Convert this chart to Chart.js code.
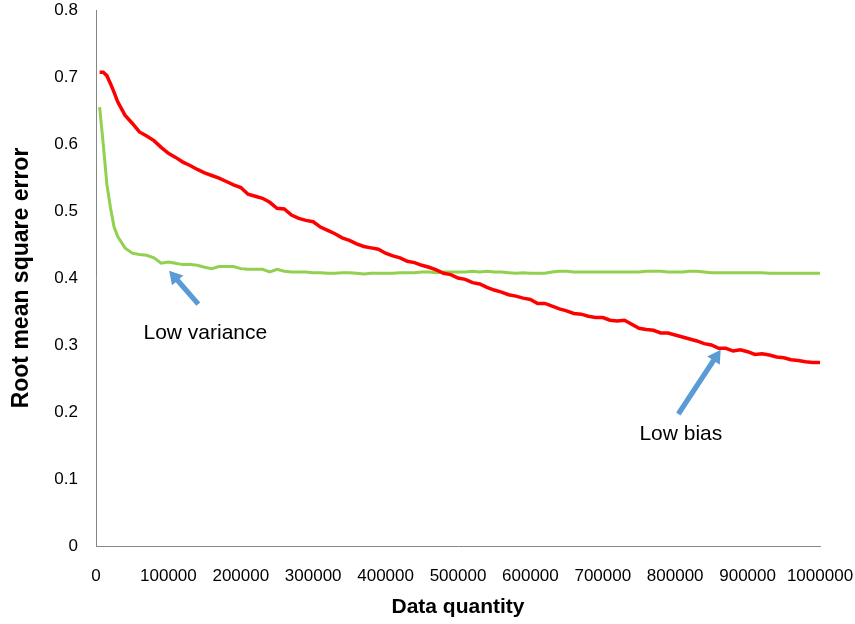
<!DOCTYPE html>
<html>
<head>
<meta charset="utf-8">
<script src="https://cdn.jsdelivr.net/npm/chart.js@4.4.1/dist/chart.umd.min.js"></script>
<style>
  html, body { margin: 0; padding: 0; background: #fff; }
  #wrap { width: 855px; height: 624px; position: relative; }
</style>
</head>
<body>
<div id="wrap"><canvas id="rmse-chart"></canvas></div>
<script>
// x values (data quantity)
const quantities = [
    5000, 10000, 15000, 20000, 25000, 30000, 40000, 50000, 60000, 70000, 80000, 90000, 100000,
    110000, 120000, 130000, 140000, 150000, 160000, 170000, 180000, 190000, 200000,
    210000, 220000, 230000, 240000, 250000, 260000, 270000, 280000, 290000, 300000,
    310000, 320000, 330000, 340000, 350000, 360000, 370000, 380000, 390000, 400000,
    410000, 420000, 430000, 440000, 450000, 460000, 470000, 480000, 490000, 500000,
    510000, 520000, 530000, 540000, 550000, 560000, 570000, 580000, 590000, 600000,
    610000, 620000, 630000, 640000, 650000, 660000, 670000, 680000, 690000, 700000,
    710000, 720000, 730000, 740000, 750000, 760000, 770000, 780000, 790000, 800000,
    810000, 820000, 830000, 840000, 850000, 860000, 870000, 880000, 890000, 900000,
    910000, 920000, 930000, 940000, 950000, 960000, 970000, 980000, 990000, 1000000
];

// red line
const complexModelRmse = [
    0.707, 0.707, 0.702, 0.690, 0.677, 0.663, 0.643, 0.631, 0.618, 0.612, 0.605, 0.595, 0.586,
    0.580, 0.573, 0.568, 0.562, 0.557, 0.553, 0.549, 0.544, 0.539, 0.535,
    0.525, 0.522, 0.519, 0.513, 0.504, 0.503, 0.494, 0.489, 0.486, 0.484,
    0.476, 0.471, 0.466, 0.460, 0.456, 0.451, 0.447, 0.445, 0.443, 0.437,
    0.433, 0.430, 0.425, 0.423, 0.419, 0.416, 0.412, 0.407, 0.405, 0.400,
    0.398, 0.393, 0.391, 0.386, 0.382, 0.379, 0.375, 0.373, 0.370, 0.368,
    0.362, 0.362, 0.358, 0.354, 0.351, 0.347, 0.346, 0.343, 0.341, 0.341,
    0.337, 0.336, 0.337, 0.331, 0.325, 0.323, 0.322, 0.318, 0.318, 0.315,
    0.312, 0.309, 0.306, 0.302, 0.300, 0.295, 0.295, 0.291, 0.293, 0.290,
    0.286, 0.287, 0.285, 0.282, 0.281, 0.278, 0.277, 0.275, 0.274, 0.274
];

// green line
const simpleModelRmse = [
    0.655, 0.600, 0.540, 0.505, 0.476, 0.462, 0.445, 0.437, 0.435, 0.434, 0.430, 0.422, 0.424,
    0.422, 0.420, 0.420, 0.419, 0.416, 0.414, 0.417, 0.417, 0.417, 0.414,
    0.413, 0.413, 0.413, 0.409, 0.413, 0.410, 0.409, 0.409, 0.409, 0.408,
    0.408, 0.407, 0.407, 0.408, 0.408, 0.407, 0.406, 0.407, 0.407, 0.407,
    0.407, 0.408, 0.408, 0.408, 0.409, 0.409, 0.408, 0.409, 0.409, 0.409,
    0.409, 0.410, 0.409, 0.410, 0.409, 0.409, 0.408, 0.407, 0.408, 0.407,
    0.407, 0.407, 0.409, 0.410, 0.410, 0.409, 0.409, 0.409, 0.409, 0.409,
    0.409, 0.409, 0.409, 0.409, 0.409, 0.410, 0.410, 0.410, 0.409, 0.409,
    0.409, 0.410, 0.410, 0.409, 0.408, 0.408, 0.408, 0.408, 0.408, 0.408,
    0.408, 0.408, 0.407, 0.407, 0.407, 0.407, 0.407, 0.407, 0.407, 0.407
];

const xTickLabels = ['0', '100000', '200000', '300000', '400000', '500000',
    '600000', '700000', '800000', '900000', '1000000'];
const yTickLabels = ['0', '0.1', '0.2', '0.3', '0.4', '0.5', '0.6', '0.7', '0.8'];

// callouts, anchored in data space
const callouts = [
    { text: 'Low variance', textAt: [151000, 0.318], tail: [141300, 0.361], tip: [101000, 0.411] },
    { text: 'Low bias', textAt: [807800, 0.167], tail: [804300, 0.197], tip: [862800, 0.293] }
];

const FONT = "'Liberation Sans', Arial, sans-serif";
const AXIS_COLOR = '#868686';

const toPoints = (ys) => quantities.map((q, i) => ({ x: q, y: ys[i] }));

const drawArrow = (ctx, x1, y1, x2, y2) => {
    const ang = Math.atan2(y2 - y1, x2 - x1);
    const len = Math.hypot(x2 - x1, y2 - y1);
    const headLen = 13, headHalf = 7.5, shaftHalf = 2.6;
    ctx.save();
    ctx.translate(x1, y1);
    ctx.rotate(ang);
    ctx.beginPath();
    ctx.moveTo(0, -shaftHalf);
    ctx.lineTo(len - headLen, -shaftHalf);
    ctx.lineTo(len - headLen, -headHalf);
    ctx.lineTo(len, 0);
    ctx.lineTo(len - headLen, headHalf);
    ctx.lineTo(len - headLen, shaftHalf);
    ctx.lineTo(0, shaftHalf);
    ctx.closePath();
    ctx.fillStyle = '#5B9BD5';
    ctx.fill();
    ctx.restore();
};

const calloutPlugin = {
    id: 'callouts',
    afterDatasetsDraw(chart) {
        const ctx = chart.ctx;
        const xs = chart.scales.x, ys = chart.scales.y;
        callouts.forEach(c => {
            drawArrow(ctx,
                xs.getPixelForValue(c.tail[0]), ys.getPixelForValue(c.tail[1]),
                xs.getPixelForValue(c.tip[0]), ys.getPixelForValue(c.tip[1]));
            ctx.save();
            ctx.font = `21px ${FONT}`;
            ctx.fillStyle = '#000';
            ctx.textAlign = 'center';
            ctx.textBaseline = 'middle';
            ctx.fillText(c.text, xs.getPixelForValue(c.textAt[0]), ys.getPixelForValue(c.textAt[1]));
            ctx.restore();
        });
    }
};

const ctx = document.getElementById('rmse-chart').getContext('2d');
window.rmseChart = new Chart(ctx, {
    type: 'line',
    data: {
        datasets: [{
            label: 'Complex model',
            data: toPoints(complexModelRmse),
            borderColor: '#FF0000',
            borderWidth: 3.5,
            pointRadius: 0,
            tension: 0
        }, {
            label: 'Simple model',
            data: toPoints(simpleModelRmse),
            borderColor: '#92D050',
            borderWidth: 3,
            pointRadius: 0,
            tension: 0
        }]
    },
    options: {
        responsive: true,
        maintainAspectRatio: false,
        animation: false,
        layout: { padding: { top: 10, right: 35, left: 0, bottom: 0 } },
        plugins: {
            legend: { display: false },
            tooltip: { enabled: false }
        },
        scales: {
            x: {
                type: 'linear',
                min: 0,
                max: 1000000,
                grid: { display: false },
                border: { display: true, color: AXIS_COLOR, width: 1 },
                ticks: {
                    stepSize: 100000,
                    autoSkip: false,
                    maxRotation: 0,
                    padding: 12,
                    color: '#000',
                    font: { family: FONT, size: 17 },
                    callback: (v) => xTickLabels[Math.round(v / 100000)]
                },
                title: {
                    display: true,
                    text: 'Data quantity',
                    color: '#000',
                    padding: { top: 0, bottom: 4 },
                    font: { family: FONT, size: 21, weight: 'bold' }
                },
                afterFit: (scale) => {
                    scale.height = 78;
                    scale.paddingLeft = 0;
                    scale.paddingRight = 0;
                }
            },
            y: {
                min: 0,
                max: 0.8,
                grid: { display: false },
                border: { display: true, color: AXIS_COLOR, width: 1 },
                ticks: {
                    stepSize: 0.1,
                    padding: 10,
                    color: '#000',
                    font: { family: FONT, size: 17 },
                    callback: (v) => yTickLabels[Math.round(v * 10)]
                },
                title: {
                    display: true,
                    text: 'Root mean square error',
                    color: '#000',
                    padding: { top: 8, bottom: 0 },
                    font: { family: FONT, size: 23, weight: 'bold' }
                },
                afterFit: (scale) => {
                    scale.width = 96;
                    scale.paddingTop = 0;
                    scale.paddingBottom = 0;
                }
            }
        }
    },
    plugins: [calloutPlugin]
});
</script>
</body>
</html>
